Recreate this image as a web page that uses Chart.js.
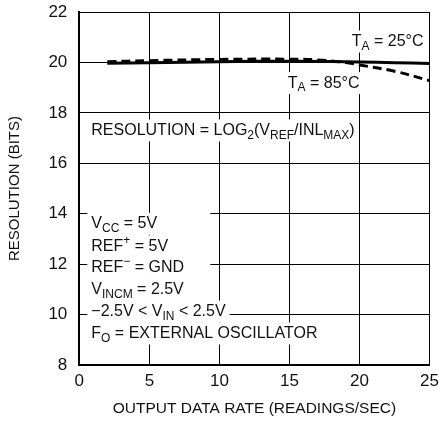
<!DOCTYPE html>
<html lang="en">
<head>
    <meta charset="UTF-8">
    <title>Resolution vs Output Data Rate</title>
    <script src="https://cdn.jsdelivr.net/npm/chart.js"></script>
    <style>
        body { margin: 0; padding: 0; background: #fff; }
        #wrap { width: 445px; height: 422px; }
    </style>
</head>
<body>
    <div id="wrap"><canvas id="resChart" width="445" height="422"></canvas></div>
    <script>
        // data
        const rateX = [2, 5, 10, 15, 18, 20, 22.5, 25];
        const res25 = [19.97, 19.99, 20.03, 20.05, 20.04, 20.02, 19.99, 19.96];
        const rate85 = [2, 5, 10, 15, 17, 19, 20, 22.5, 25];
        const res85 = [20.03, 20.07, 20.12, 20.13, 20.1, 20.0, 19.9, 19.65, 19.28];
        const xTicks = [0, 5, 10, 15, 20, 25];
        const yTicks = [8, 10, 12, 14, 16, 18, 20, 22];

        const FONT = '"Liberation Sans", Arial, sans-serif';

        // draw text made of normal / sub / sup pieces, returns width
        function richText(ctx, parts, x, y, size, align) {
            const small = Math.round(size * 0.72);
            let total = 0;
            parts.forEach(p => {
                ctx.font = (p.sub || p.sup ? small : size) + 'px ' + FONT;
                total += ctx.measureText(p.t).width;
            });
            let cx = align === 'right' ? x - total : x;
            parts.forEach(p => {
                ctx.font = (p.sub || p.sup ? small : size) + 'px ' + FONT;
                let dy = p.sub ? size * 0.3 : (p.sup ? -size * 0.38 : 0);
                ctx.fillText(p.t, cx, y + dy);
                cx += ctx.measureText(p.t).width;
            });
            return total;
        }

        const notes = [
            { parts: [{t: 'T'}, {t: 'A', sub: true}, {t: ' = 25°C'}], x: 25, y: 20.83, align: 'right', dx: -6 },
            { parts: [{t: 'T'}, {t: 'A', sub: true}, {t: ' = 85°C'}], x: 20, y: 19.18, align: 'right', dx: 0 },
            { parts: [{t: 'RESOLUTION = LOG'}, {t: '2', sub: true}, {t: '(V'}, {t: 'REF', sub: true}, {t: '/INL'}, {t: 'MAX', sub: true}, {t: ')'}], x: 0, y: 17.3, align: 'left', dx: 12 },
            { parts: [{t: 'V'}, {t: 'CC', sub: true}, {t: ' = 5V'}], x: 0, y: 13.6, align: 'left', dx: 12, boxRight: 9.35 },
            { parts: [{t: 'REF'}, {t: '+', sup: true}, {t: ' = 5V'}], x: 0, y: 12.7, align: 'left', dx: 12, boxRight: 9.35 },
            { parts: [{t: 'REF'}, {t: '−', sup: true}, {t: ' = GND'}], x: 0, y: 11.85, align: 'left', dx: 12, boxRight: 9.35 },
            { parts: [{t: 'V'}, {t: 'INCM', sub: true}, {t: ' = 2.5V'}], x: 0, y: 10.98, align: 'left', dx: 12, boxRight: 9.35 },
            { parts: [{t: '−2.5V < V'}, {t: 'IN', sub: true}, {t: ' < 2.5V'}], x: 0, y: 10.12, align: 'left', dx: 12 },
            { parts: [{t: 'F'}, {t: 'O', sub: true}, {t: ' = EXTERNAL OSCILLATOR'}], x: 0, y: 9.25, align: 'left', dx: 12 }
        ];

        const notePlugin = {
            id: 'notes',
            beforeDatasetsDraw(chart) {
                const ctx = chart.ctx;
                const xs = chart.scales.x, ys = chart.scales.y;
                ctx.save();
                ctx.textBaseline = 'middle';
                ctx.textAlign = 'left';
                notes.forEach(n => {
                    const px = xs.getPixelForValue(n.x) + n.dx;
                    const py = ys.getPixelForValue(n.y);
                    // measure first for the white box
                    ctx.globalAlpha = 0;
                    const w = richText(ctx, n.parts, px, py, 16, n.align);
                    ctx.globalAlpha = 1;
                    const left = n.align === 'right' ? px - w : px;
                    let right = left + w + 4;
                    if (n.boxRight) right = Math.max(right, xs.getPixelForValue(n.boxRight));
                    ctx.fillStyle = '#fff';
                    ctx.fillRect(left - 4, py - 11, right - left + 4, 22);
                    ctx.fillStyle = '#111';
                    richText(ctx, n.parts, px, py, 16, n.align);
                });
                ctx.restore();
            }
        };

        new Chart(document.getElementById('resChart'), {
            type: 'line',
            data: {
                datasets: [
                    {
                        label: 'TA = 25°C',
                        data: rateX.map((x, i) => ({ x: x, y: res25[i] })),
                        borderColor: '#000',
                        borderWidth: 3,
                        pointRadius: 0,
                        tension: 0.4,
                        fill: false
                    },
                    {
                        label: 'TA = 85°C',
                        data: rate85.map((x, i) => ({ x: x, y: res85[i] })),
                        borderColor: '#000',
                        borderWidth: 3,
                        borderDash: [9, 5],
                        pointRadius: 0,
                        tension: 0.4,
                        fill: false
                    }
                ]
            },
            options: {
                responsive: false,
                animation: false,
                layout: { padding: { top: 12, right: 12, left: 2, bottom: 0 } },
                plugins: { legend: { display: false }, tooltip: { enabled: false } },
                scales: {
                    x: {
                        type: 'linear',
                        min: 0, max: 25,
                        afterBuildTicks: s => { s.ticks = xTicks.map(v => ({ value: v })); },
                        grid: { color: '#000', lineWidth: 1, drawTicks: false },
                        border: { color: '#000', width: 2 },
                        ticks: { color: '#111', padding: 6, font: { family: FONT, size: 17 } },
                        title: { display: true, text: 'OUTPUT DATA RATE (READINGS/SEC)', color: '#111', padding: { top: 2 }, font: { family: FONT, size: 15.5 } }
                    },
                    y: {
                        min: 8, max: 22,
                        afterBuildTicks: s => { s.ticks = yTicks.map(v => ({ value: v })); },
                        // tick padding would otherwise push the plot top down
                        afterFit: s => { s.paddingTop = 0; s.paddingBottom = 0; },
                        grid: { color: '#000', lineWidth: 1, drawTicks: false },
                        border: { color: '#000', width: 2 },
                        ticks: { color: '#111', padding: 12, font: { family: FONT, size: 17 } },
                        title: { display: true, text: 'RESOLUTION (BITS)', color: '#111', padding: { bottom: 12.4 }, font: { family: FONT, size: 15 } }
                    }
                }
            },
            plugins: [notePlugin]
        });
    </script>
</body>
</html>
